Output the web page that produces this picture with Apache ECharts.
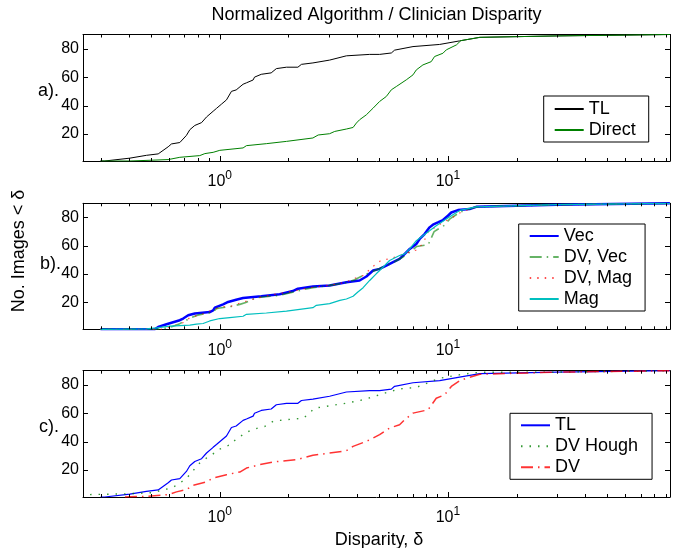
<!DOCTYPE html>
<html><head><meta charset="utf-8">
<script src="https://cdn.jsdelivr.net/npm/echarts@6/dist/echarts.min.js"></script>
<style>html,body{margin:0;padding:0;background:#fff}#c{width:676px;height:548px}</style>
</head><body><div id="c"></div>
<script>
// ---- axis settings ----
const xLimits = [0.2514, 94.1];
const yLimits = [1, 90];
const yTickValues = [20, 40, 60, 80];
const xMajorTicks = [1, 10];
const xMinorTicks = [0.3,0.4,0.5,0.6,0.7,0.8,0.9,2,3,4,5,6,7,8,9,20,30,40,50,60,70,80,90];
const titleText = 'Normalized Algorithm / Clinician Disparity';
const xTitle = 'Disparity, δ';
const yTitle = 'No. Images < δ';
const panelLabels = ['a).', 'b).', 'c).'];

// ---- data: disparity (δ) and number of images < δ ----
const tlX = [0.30,0.313,0.403,0.477,0.537,0.594,0.614,0.668,0.714,0.739,0.777,0.832,0.875,0.935,0.967,1.017,1.07,1.125,1.18,1.265,1.309,1.40,1.42,1.52,1.68,1.77,1.96,2.20,2.28,2.56,3.03,3.59,4.54,5.02,5.65,5.84,7.03,9.2,9.35,11.25,11.4,13.8,30,94];
const tlY = [1,1,3,5,6,11,13,14,19,23,26,28,32,36,38,41,44,50,51,55,56,58,60,62,63,66,67,67,69,70,72,75,76,76,77,79,81.5,83,83.5,85.5,86,88,89,90];

const directX = [0.30,0.403,0.594,0.668,0.817,0.86,0.935,1.0,1.265,1.309,1.60,1.96,2.56,2.70,3.03,3.19,3.59,3.84,3.97,4.10,4.39,4.70,5.02,5.37,5.65,5.94,6.57,7.03,7.27,7.77,8.45,8.74,9.51,9.84,10.9,11.4,13.8,30,94];
const directY = [1,1,2,3.6,4.8,6.2,7.1,8.5,10.2,11.8,13.2,14.8,17.2,19.3,20.2,21.8,23.5,24.6,27.7,30,33.5,38.2,42.9,46.4,51.1,53.4,58.1,61.6,65.1,68.6,70.9,74.5,76.8,79.2,82.7,85.7,88,89,90];

const vecX = [0.30,0.519,0.537,0.584,0.668,0.691,0.727,0.777,0.904,0.935,0.951,1.034,1.088,1.18,1.265,1.52,1.83,2.09,2.20,2.56,3.03,3.59,4.10,4.39,4.70,5.02,5.37,5.75,6.14,6.36,6.80,7.27,7.52,7.9,8.31,8.60,9.04,9.51,10,10.35,11.07,12.45,13.3,30,94];
const vecY = [1,1,2.7,4.6,7.4,8.6,10.9,12.1,13.2,14.4,16.3,18.6,20.3,21.9,23.1,24.3,25.7,28,29.7,31.3,32,34.3,35.5,38.3,42.5,43.7,46,48.4,50.7,53.1,57.8,61.3,64.8,68.3,73,74.9,76.5,78.2,81.2,83.5,85.2,85.9,87.5,89,90];

const dvVecX = [0.30,0.55,0.62,0.668,0.752,0.80,0.935,0.967,1.0,1.125,1.224,1.30,1.447,1.83,2.32,2.56,3.03,3.59,3.90,4.25,4.70,5.02,5.37,5.75,6.14,6.50,7.0,7.3,8.2,8.7,9.0,9.67,10.2,11.25,11.7,13.3,30,94];
const dvVecY = [1,1,3,5,9.3,11,13.2,15.6,16,17.2,18.6,20,23.3,25,29,30.4,32,34,36,39,42,44,46,48,50.7,53,57,59.5,60.8,70,71.5,74.5,79,83.5,84.7,87.5,89,90];

const dvMagX = [0.30,0.55,0.62,0.70,0.739,0.845,1.0,1.13,1.25,1.45,1.77,2.0,2.48,3.2,3.59,3.9,4.25,4.70,5.08,5.6,6.14,6.6,7.3,7.8,8.2,9.0,9.6,10.5,11.5,13.3,30,94];
const dvMagY = [1,1,3,6,9.3,12,16.7,17.5,20,23,26,27.3,30.4,32.7,34.5,37,39,45.4,49.6,51,53,55,57,62,70,74,77,80,84,87.5,89,90];

const magX = [0.30,0.477,0.528,0.604,0.739,0.79,0.845,0.904,1.0,1.106,1.265,1.309,1.60,1.96,2.56,2.65,3.03,3.36,3.59,3.84,4.03,4.25,4.54,4.85,5.02,5.55,6.14,6.46,6.80,7.27,7.77,8.31,8.89,9.84,10.9,11.4,13.3,30,94];
const magY = [1,1.3,2,3.2,3.9,4.6,5.1,6.9,8.6,9.3,10.2,11.6,12.5,13.9,16.3,17.9,19.1,21.4,22.4,24.3,27.3,30.4,35.5,40.2,42.5,49.6,53.1,54.3,57.8,63.6,67.1,70.6,74.2,78.9,83.5,85.2,87.5,89,90];

const houghX = [0.27,0.384,0.50,0.574,0.625,0.703,0.739,0.777,0.817,0.875,0.919,0.983,1.05,1.125,1.18,1.265,1.353,1.47,1.574,1.712,1.83,2.17,2.33,2.61,3.03,3.59,4.25,5.02,5.28,6.14,7.27,8.31,9.2,11.6,13.8,30,94];
const houghY = [2.7,3.2,4,6.2,7.9,13.2,16.7,21,25,28.5,30.4,34.3,36.2,38.3,42,44.9,47.7,49.6,50.7,54.3,55,56.1,56.6,63.6,65.3,67.1,69.5,73,74.2,77.2,78.2,81.9,84.7,87.5,88.9,89,90];

const dvX = [0.384,0.477,0.594,0.646,0.714,0.764,0.875,0.935,1.07,1.224,1.309,1.50,1.71,2.17,2.56,3.59,3.84,4.39,5.02,5.55,6.14,6.46,7.03,8.18,8.89,9.67,10.35,11.25,12.04,13.8,30,94];
const dvY = [1,1.5,2.7,4.6,6.2,9.3,11.6,14.4,16.7,18.6,21.4,23.8,25.7,27.3,30.4,33.6,36.7,40.2,44.9,49.6,51.9,55.4,60.1,62.4,70.6,73,78.9,82.8,84.7,87.5,89,90];

// ---- chart ----
const FONT = '"Liberation Sans", Arial, Helvetica, sans-serif';
const L10 = Math.log10;
const grids = [
  {left: 83, top: 34.5, width: 587, height: 126.5},
  {left: 83, top: 203.3, width: 587, height: 126},
  {left: 83, top: 370.7, width: 587, height: 126.3}
];
const panels = [
  [
    {name: 'TL', x: tlX, y: tlY, color: '#000000', width: 1, type: 'solid'},
    {name: 'Direct', x: directX, y: directY, color: '#008000', width: 1, type: 'solid'}
  ],
  [
    {name: 'Vec', x: vecX, y: vecY, color: '#0000ff', width: 2.5, type: 'solid'},
    {name: 'DV, Vec', x: dvVecX, y: dvVecY, color: '#008000', width: 1.6, type: [12, 5, 1.5, 5], opacity: 0.6},
    {name: 'DV, Mag', x: dvMagX, y: dvMagY, color: '#ff0000', width: 1.2, type: [1.5, 6], opacity: 0.7},
    {name: 'Mag', x: magX, y: magY, color: '#00bfbf', width: 1.2, type: 'solid'}
  ],
  [
    {name: 'TL ', x: tlX, y: tlY, color: '#0000ff', width: 1.2, type: 'solid'},
    {name: 'DV Hough', x: houghX, y: houghY, color: '#008000', width: 1.4, type: [1.5, 7], opacity: 0.8},
    {name: 'DV', x: dvX, y: dvY, color: '#ff0000', width: 1.5, type: [12, 5, 1.5, 5], opacity: 0.8}
  ]
];
const legendBoxes = [
  {left: 543.7, top: 96, padding: [4, 13, 3, 10]},
  {left: 518.7, top: 224, padding: [3, 13, 3, 10]},
  {left: 510, top: 413.3, padding: [3, 14, 3, 10]}
];

const xAxes = [], yAxes = [], series = [], legends = [];
const lineSty = {show: true, onZero: false, lineStyle: {color: '#000', width: 1}};
grids.forEach((g, gi) => {
  const base = {type: 'value', gridIndex: gi, min: L10(xLimits[0]), max: L10(xLimits[1]), splitLine: {show: false}, axisTick: {show: false}};
  ['bottom', 'top'].forEach(pos => {
    xAxes.push(Object.assign({}, base, {position: pos, axisLine: lineSty,
      axisLabel: pos === 'bottom' ? {show: true, customValues: xMajorTicks.map(L10), margin: 9,
        formatter: v => '{b|10}{s|' + Math.round(v) + '}',
        rich: {b: {fontSize: 16, fontFamily: FONT, color: '#000'},
               s: {fontSize: 12, fontFamily: FONT, color: '#000', padding: [0, 0, 12, 0]}}} : {show: false}
    }));
  });
  ['left', 'right'].forEach(pos => {
    yAxes.push({type: 'value', gridIndex: gi, position: pos, min: yLimits[0], max: yLimits[1],
      axisLine: lineSty, splitLine: {show: false}, axisTick: {show: false},
      axisLabel: pos === 'left' ? {show: true, customValues: yTickValues, margin: 4, fontSize: 16, fontFamily: FONT, color: '#000'} : {show: false}
    });
  });
  panels[gi].forEach(s => {
    series.push({
      type: 'line', name: s.name, xAxisIndex: gi * 2, yAxisIndex: gi * 2,
      data: s.x.map((d, i) => [L10(d), s.y[i]]),
      symbol: 'none', showSymbol: false, animation: false, silent: true,
      lineStyle: {color: s.color, width: s.width, type: s.type, opacity: s.opacity || 1},
      itemStyle: {color: s.color}
    });
  });
  legends.push(Object.assign({
    orient: 'vertical', data: panels[gi].map(s => s.name),
    itemWidth: 29, itemHeight: 14, itemGap: 3,
    backgroundColor: '#fff', borderColor: '#000', borderWidth: 1, borderRadius: 0,
    selectedMode: false,
    itemStyle: {opacity: 0},
    textStyle: {fontSize: 18, fontFamily: FONT, color: '#000'}
  }, legendBoxes[gi]));
});

const textGraphics = [
  {type: 'text', x: 376.5, y: 15, style: {text: titleText, font: '18px ' + FONT, fill: '#000', textAlign: 'center', textVerticalAlign: 'middle'}},
  {type: 'text', x: 379, y: 540, style: {text: xTitle, font: '18px ' + FONT, fill: '#000', textAlign: 'center', textVerticalAlign: 'middle'}},
  {type: 'text', x: 19.5, y: 251, rotation: Math.PI / 2, style: {text: yTitle, font: '18px ' + FONT, fill: '#000', textAlign: 'center', textVerticalAlign: 'middle'}},
  {type: 'text', x: 59, y: 91, style: {text: panelLabels[0], font: '18px ' + FONT, fill: '#000', textAlign: 'right', textVerticalAlign: 'middle'}},
  {type: 'text', x: 61, y: 264, style: {text: panelLabels[1], font: '18px ' + FONT, fill: '#000', textAlign: 'right', textVerticalAlign: 'middle'}},
  {type: 'text', x: 59, y: 427, style: {text: panelLabels[2], font: '18px ' + FONT, fill: '#000', textAlign: 'right', textVerticalAlign: 'middle'}}
];

const chart = echarts.init(document.getElementById('c'), null, {renderer: 'canvas'});
chart.setOption({
  animation: false,
  backgroundColor: '#fff',
  grid: grids.map(g => Object.assign({show: false}, g)),
  xAxis: xAxes,
  yAxis: yAxes,
  legend: legends,
  series: series
});

// tick marks (inward, on all four sides), positioned through the axes' own scales
const tickGraphics = [];
grids.forEach((g, gi) => {
  const finder = {xAxisIndex: gi * 2, yAxisIndex: gi * 2};
  const px = (x, y) => chart.convertToPixel(finder, [x, y]);
  const lo = px(L10(xLimits[0]), yLimits[0]);
  const hi = px(L10(xLimits[1]), yLimits[1]);
  const left = lo[0], bottom = lo[1], right = hi[0], top = hi[1];
  const add = (x1, y1, x2, y2) => tickGraphics.push({type: 'line', silent: true, z: 10,
    shape: {x1: x1, y1: y1, x2: x2, y2: y2}, style: {stroke: '#000', lineWidth: 1}});
  const xTick = (v, len) => {
    const x = Math.round(px(L10(v), yLimits[0])[0]) + 0.5;
    add(x, bottom, x, bottom - len);
    add(x, top, x, top + len);
  };
  xMajorTicks.forEach(v => xTick(v, 5));
  xMinorTicks.forEach(v => xTick(v, 3));
  yTickValues.forEach(v => {
    const y = Math.round(px(L10(xLimits[0]), v)[1]) + 0.5;
    add(left, y, left + 5, y);
    add(right, y, right - 5, y);
  });
});
chart.setOption({graphic: textGraphics.concat(tickGraphics)});
</script>
</body></html>
